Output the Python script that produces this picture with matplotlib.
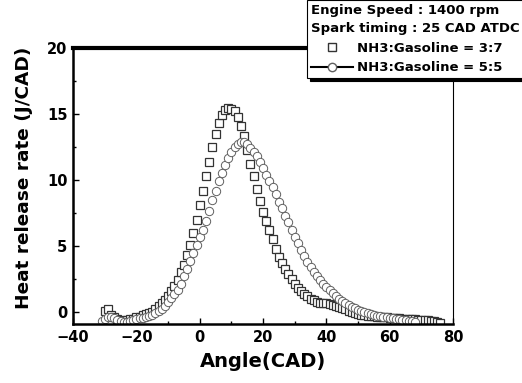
import matplotlib
matplotlib.use("Agg")
import matplotlib.pyplot as plt
from matplotlib.lines import Line2D
from matplotlib.ticker import MultipleLocator

# NH3:Gasoline = 3:7 (squares), one point per CAD
angle_37 = list(range(-30, 77))
hrr_37 = [0.1, 0.2, -0.2, -0.4, -0.5, -0.6, -0.65, -0.6, -0.55, -0.5,
          -0.4, -0.35, -0.25, -0.15, -0.05, 0.0, 0.2, 0.45, 0.7, 0.95,
          1.25, 1.6, 2.0, 2.45, 3.0, 3.6, 4.3, 5.1, 6.0, 7.0,
          8.1, 9.2, 10.3, 11.4, 12.5, 13.5, 14.3, 14.9, 15.3, 15.45,
          15.4, 15.2, 14.8, 14.1, 13.3, 12.3, 11.2, 10.3, 9.3, 8.4,
          7.6, 6.9, 6.2, 5.5, 4.8, 4.2, 3.7, 3.25, 2.85, 2.5,
          2.15, 1.85, 1.6, 1.4, 1.2, 1.0, 0.88, 0.78, 0.72, 0.7,
          0.68, 0.62, 0.55, 0.48, 0.4, 0.3, 0.2, 0.1, 0.02, -0.05,
          -0.12, -0.18, -0.22, -0.26, -0.3, -0.32, -0.34, -0.36, -0.38, -0.4,
          -0.42, -0.43, -0.45, -0.47, -0.49, -0.5, -0.52, -0.53, -0.55, -0.56,
          -0.58, -0.6, -0.62, -0.66, -0.7, -0.75, -0.8]

# NH3:Gasoline = 5:5 (circles)
angle_55 = list(range(-31, 69))
hrr_55 = [-0.65, -0.55, -0.4, -0.35, -0.45, -0.6, -0.7, -0.75, -0.72, -0.65,
          -0.58, -0.52, -0.48, -0.44, -0.38, -0.3, -0.22, -0.1, 0.05, 0.25,
          0.5, 0.75, 1.05, 1.35, 1.7, 2.15, 2.7, 3.25, 3.85, 4.5,
          5.05, 5.7, 6.25, 6.9, 7.65, 8.45, 9.2, 9.9, 10.5, 11.1,
          11.65, 12.15, 12.5, 12.75, 12.9, 12.9, 12.7, 12.4, 12.1, 11.8,
          11.4, 10.9, 10.4, 9.9, 9.45, 8.95, 8.35, 7.85, 7.3, 6.8,
          6.25, 5.7, 5.2, 4.7, 4.25, 3.8, 3.4, 3.05, 2.75, 2.45,
          2.15, 1.9, 1.65, 1.42, 1.2, 1.0, 0.82, 0.66, 0.52, 0.4,
          0.28, 0.17, 0.07, -0.02, -0.1, -0.17, -0.23, -0.28, -0.33, -0.37,
          -0.4, -0.44, -0.48, -0.51, -0.55, -0.59, -0.63, -0.67, -0.7, -0.73]

plt.rcParams['font.family'] = ['DejaVu Sans']
plt.rcParams['font.weight'] = 'bold'

fig = plt.figure(figsize=(5.22, 3.83), dpi=100)
ax = fig.add_axes([0.140, 0.154, 0.728, 0.721])

ax.plot(angle_37, hrr_37, ls='none', marker='s', ms=5.3, mfc='white',
        mec='#333333', mew=0.9)
ax.plot(angle_55, hrr_55, ls='none', marker='o', ms=6, mfc='white',
        mec='#606060', mew=0.7)

ax.set_xlim(-40, 80)
ax.set_ylim(-0.9, 20)
ax.xaxis.set_major_locator(MultipleLocator(20))
ax.xaxis.set_minor_locator(MultipleLocator(10))
ax.yaxis.set_major_locator(MultipleLocator(5))
ax.yaxis.set_minor_locator(MultipleLocator(2.5))
ax.tick_params(which='both', direction='in', top=False, right=False,
               labelsize=10.5, width=1)
ax.tick_params(which='major', length=4, pad=4)
ax.tick_params(which='minor', length=2.5)
for lab in ax.get_xticklabels() + ax.get_yticklabels():
    lab.set_fontweight('bold')

ax.spines['top'].set_linewidth(3)
ax.spines['left'].set_linewidth(1.8)
ax.spines['bottom'].set_linewidth(1.8)
ax.spines['right'].set_linewidth(0.8)

ax.set_xlabel('Angle(CAD)', fontsize=14, fontweight='bold', labelpad=5)
ax.set_ylabel('Heat release rate (J/CAD)', fontsize=13.3, fontweight='bold')
ax.yaxis.set_label_coords(-0.105, 0.53)

handles = [
    Line2D([], [], ls='none', marker='s', ms=5.3, mfc='white', mec='#333333'),
    Line2D([], [], color='black', lw=1.5, marker='o', ms=6, mfc='white',
           mec='#606060'),
]
leg = ax.legend(handles, ['NH3:Gasoline = 3:7', 'NH3:Gasoline = 5:5'],
                title='Engine Speed : 1400 rpm\nSpark timing : 25 CAD ATDC',
                loc='upper left', bbox_to_anchor=(307 / 522, 1.0),
                bbox_transform=fig.transFigure, frameon=True, fancybox=False,
                shadow={'color': 'black', 'alpha': 1}, edgecolor='black',
                framealpha=1, borderpad=0.3, labelspacing=0.5,
                handlelength=3.2, handletextpad=0.3, borderaxespad=0,
                prop={'weight': 'bold', 'size': 9.5},
                title_fontproperties={'weight': 'bold', 'size': 9.5})
leg._legend_box.align = 'left'
leg.get_title().set_linespacing(1.5)
leg.get_frame().set_linewidth(0.8)
leg.set_zorder(10)

fig.savefig('out.png', dpi=100)
